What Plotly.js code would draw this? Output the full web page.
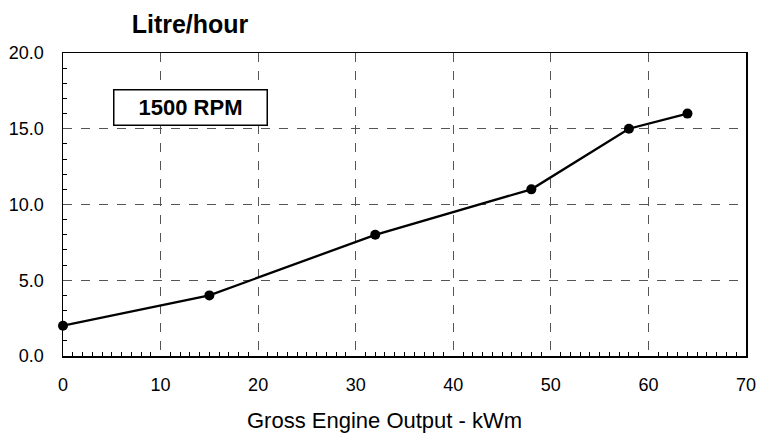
<!DOCTYPE html>
<html>
<head>
<meta charset="utf-8">
<script src="https://cdn.plot.ly/plotly-3.0.1.min.js"></script>
<style>html,body{margin:0;padding:0;background:#fff;}#chart{width:758px;height:435px;}</style>
</head>
<body>
<div id="chart"></div>
<script>
const outputKWm = [0, 15, 32, 48, 58, 64];
const litrePerHour = [2, 4, 8, 11, 15, 16];
const chartTitle = "Litre/hour";
const xTitle = "Gross Engine Output - kWm";
const rpmLabel = "1500 RPM";

const trace = {
  x: outputKWm, y: litrePerHour, type: 'scatter', mode: 'lines+markers',
  line: {color: '#000', width: 2.3},
  marker: {color: '#000', size: 10},
  cliponaxis: false, hoverinfo: 'skip'
};

const layout = {
  width: 758, height: 435,
  margin: {l: 63, r: 12, t: 53, b: 79},
  paper_bgcolor: '#fff', plot_bgcolor: '#fff',
  showlegend: false,
  font: {family: 'Arial, Liberation Sans, sans-serif', color: '#000', size: 18},
  title: {text: '<b>' + chartTitle + '</b>', x: 0.186, xanchor: 'center', xref: 'paper',
          y: 1 - 24/435, yanchor: 'middle', font: {size: 25, color: '#000'}},
  xaxis: {
    range: [0, 70], dtick: 10, tick0: 0, showline: true, mirror: true,
    linecolor: '#000', linewidth: 1.5, zeroline: false,
    showgrid: true, gridcolor: '#555', griddash: 'dash', gridwidth: 1,
    ticks: '', ticklabelstandoff: 12,
    minor: {dtick: 1, ticks: 'inside', ticklen: 4, tickcolor: '#000', showgrid: false}
  },
  yaxis: {
    range: [0, 20], dtick: 5, tick0: 0, showline: true, mirror: true,
    linecolor: '#000', linewidth: 1.5, zeroline: false,
    showgrid: true, gridcolor: '#555', griddash: 'dash', gridwidth: 1,
    ticks: '', tickformat: '.1f', ticklabelstandoff: 14,
    minor: {dtick: 1, ticks: 'inside', ticklen: 4, tickcolor: '#000', showgrid: false}
  },
  annotations: [{
    xref: 'x', yref: 'y', x: 13.1, y: 16.4, text: '<b>' + rpmLabel + '</b>',
    showarrow: false, font: {size: 22, color: '#000'},
    bordercolor: '#000', borderwidth: 1.5, bgcolor: '#fff',
    width: 150, height: 32, align: 'center', valign: 'middle'
  }, {
    xref: 'paper', yref: 'paper', x: 0.471, y: -0.212, xanchor: 'center', yanchor: 'middle',
    text: xTitle, showarrow: false, font: {size: 22, color: '#000'}
  }]
};

Plotly.newPlot('chart', [trace], layout, {staticPlot: true, displayModeBar: false});
</script>
</body>
</html>
